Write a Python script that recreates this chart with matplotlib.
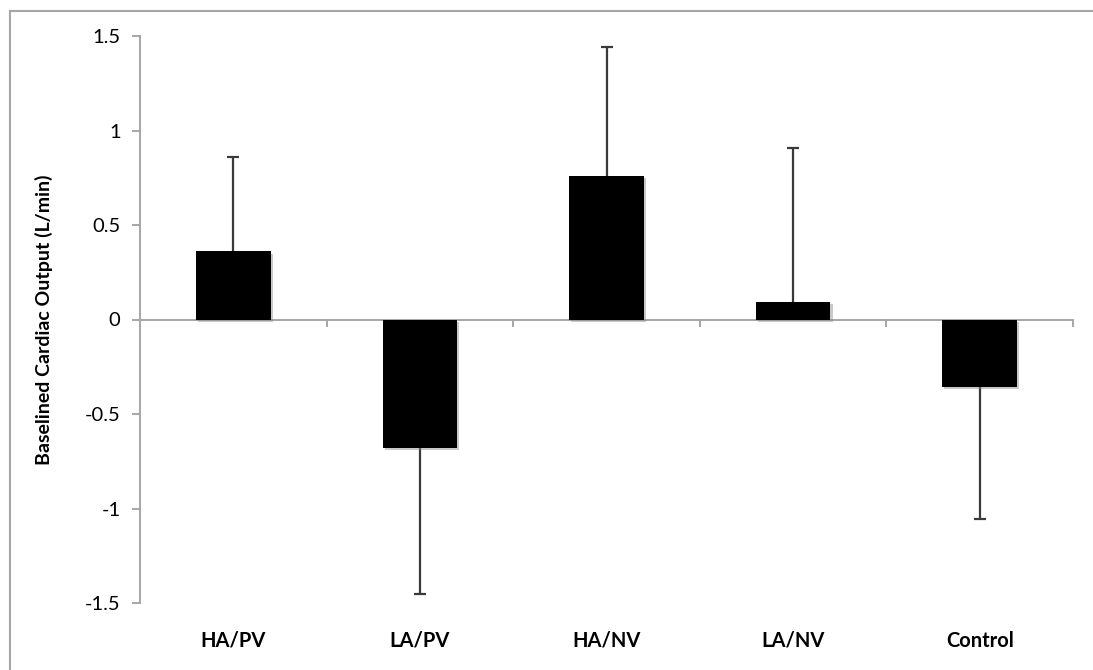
import matplotlib
matplotlib.use("Agg")
import matplotlib.pyplot as plt
import matplotlib.patheffects as pe
from matplotlib.lines import Line2D

# Group means and one-sided standard deviations
groups = ["HA/PV", "LA/PV", "HA/NV", "LA/NV", "Control"]
means = [0.36, -0.68, 0.76, 0.095, -0.355]
errors = [0.50, 0.77, 0.68, 0.81, 0.70]
yticks = [1.5, 1.0, 0.5, 0.0, -0.5, -1.0, -1.5]
ytick_labels = ["1.5", "1", "0.5", "0", "-0.5", "-1", "-1.5"]

plt.rcParams["font.family"] = ["Lato", "DejaVu Sans"]

fig = plt.figure(figsize=(10.93, 6.70), dpi=100)
ax = fig.add_axes([140 / 1093, 1 - 603 / 670, 933 / 1093, 567 / 670])

grey = "#a6a6a6"
x = list(range(len(groups)))

bars = ax.bar(x, means, width=0.40, color="black", zorder=3)
for b in bars:
    b.set_path_effects([pe.SimplePatchShadow(offset=(1.5, -1.5), shadow_rgbFace="#888888", alpha=0.45),
                        pe.Normal()])

# error bars extend only in the direction of each bar
ends = [m + (e if m >= 0 else -e) for m, e in zip(means, errors)]
ax.vlines(x, means, ends, colors="#3a3a3a", lw=1.6, zorder=2)
ax.plot(x, ends, linestyle="none", marker="_", markersize=9, markeredgewidth=1.6,
        color="#3a3a3a", zorder=2)

# category axis drawn through zero
ax.axhline(0, color=grey, lw=1.4, zorder=1)
for xb in [0.5, 1.5, 2.5, 3.5, 4.5]:
    ax.plot([xb, xb], [0, -0.035], color=grey, lw=1.4, zorder=1, clip_on=False)

ax.set_xlim(-0.5, 4.5)
ax.set_ylim(-1.5, 1.5)
ax.set_yticks(yticks)
ax.set_yticklabels(ytick_labels, fontsize=14.5)
ax.set_xticks(x)
ax.set_xticklabels(groups, fontsize=14.5, fontweight="bold")
ax.tick_params(axis="x", length=0, pad=20)
ax.tick_params(axis="y", length=6, width=1.4, color=grey, pad=8)

for side in ["top", "right", "bottom"]:
    ax.spines[side].set_visible(False)
ax.spines["left"].set_color(grey)
ax.spines["left"].set_linewidth(1.4)

ax.set_ylabel("Baselined Cardiac Output (L/min)", fontsize=14, fontweight="bold")
ax.yaxis.set_label_coords(-0.093, 0.5)

# outer chart frame
fx = 10 / 1093
fy = 1 - 11 / 670
fig.add_artist(Line2D([fx, fx], [0, fy], color=grey, lw=1.5))
fig.add_artist(Line2D([fx, 1], [fy, fy], color=grey, lw=1.5))

fig.savefig("out.png", dpi=100)
